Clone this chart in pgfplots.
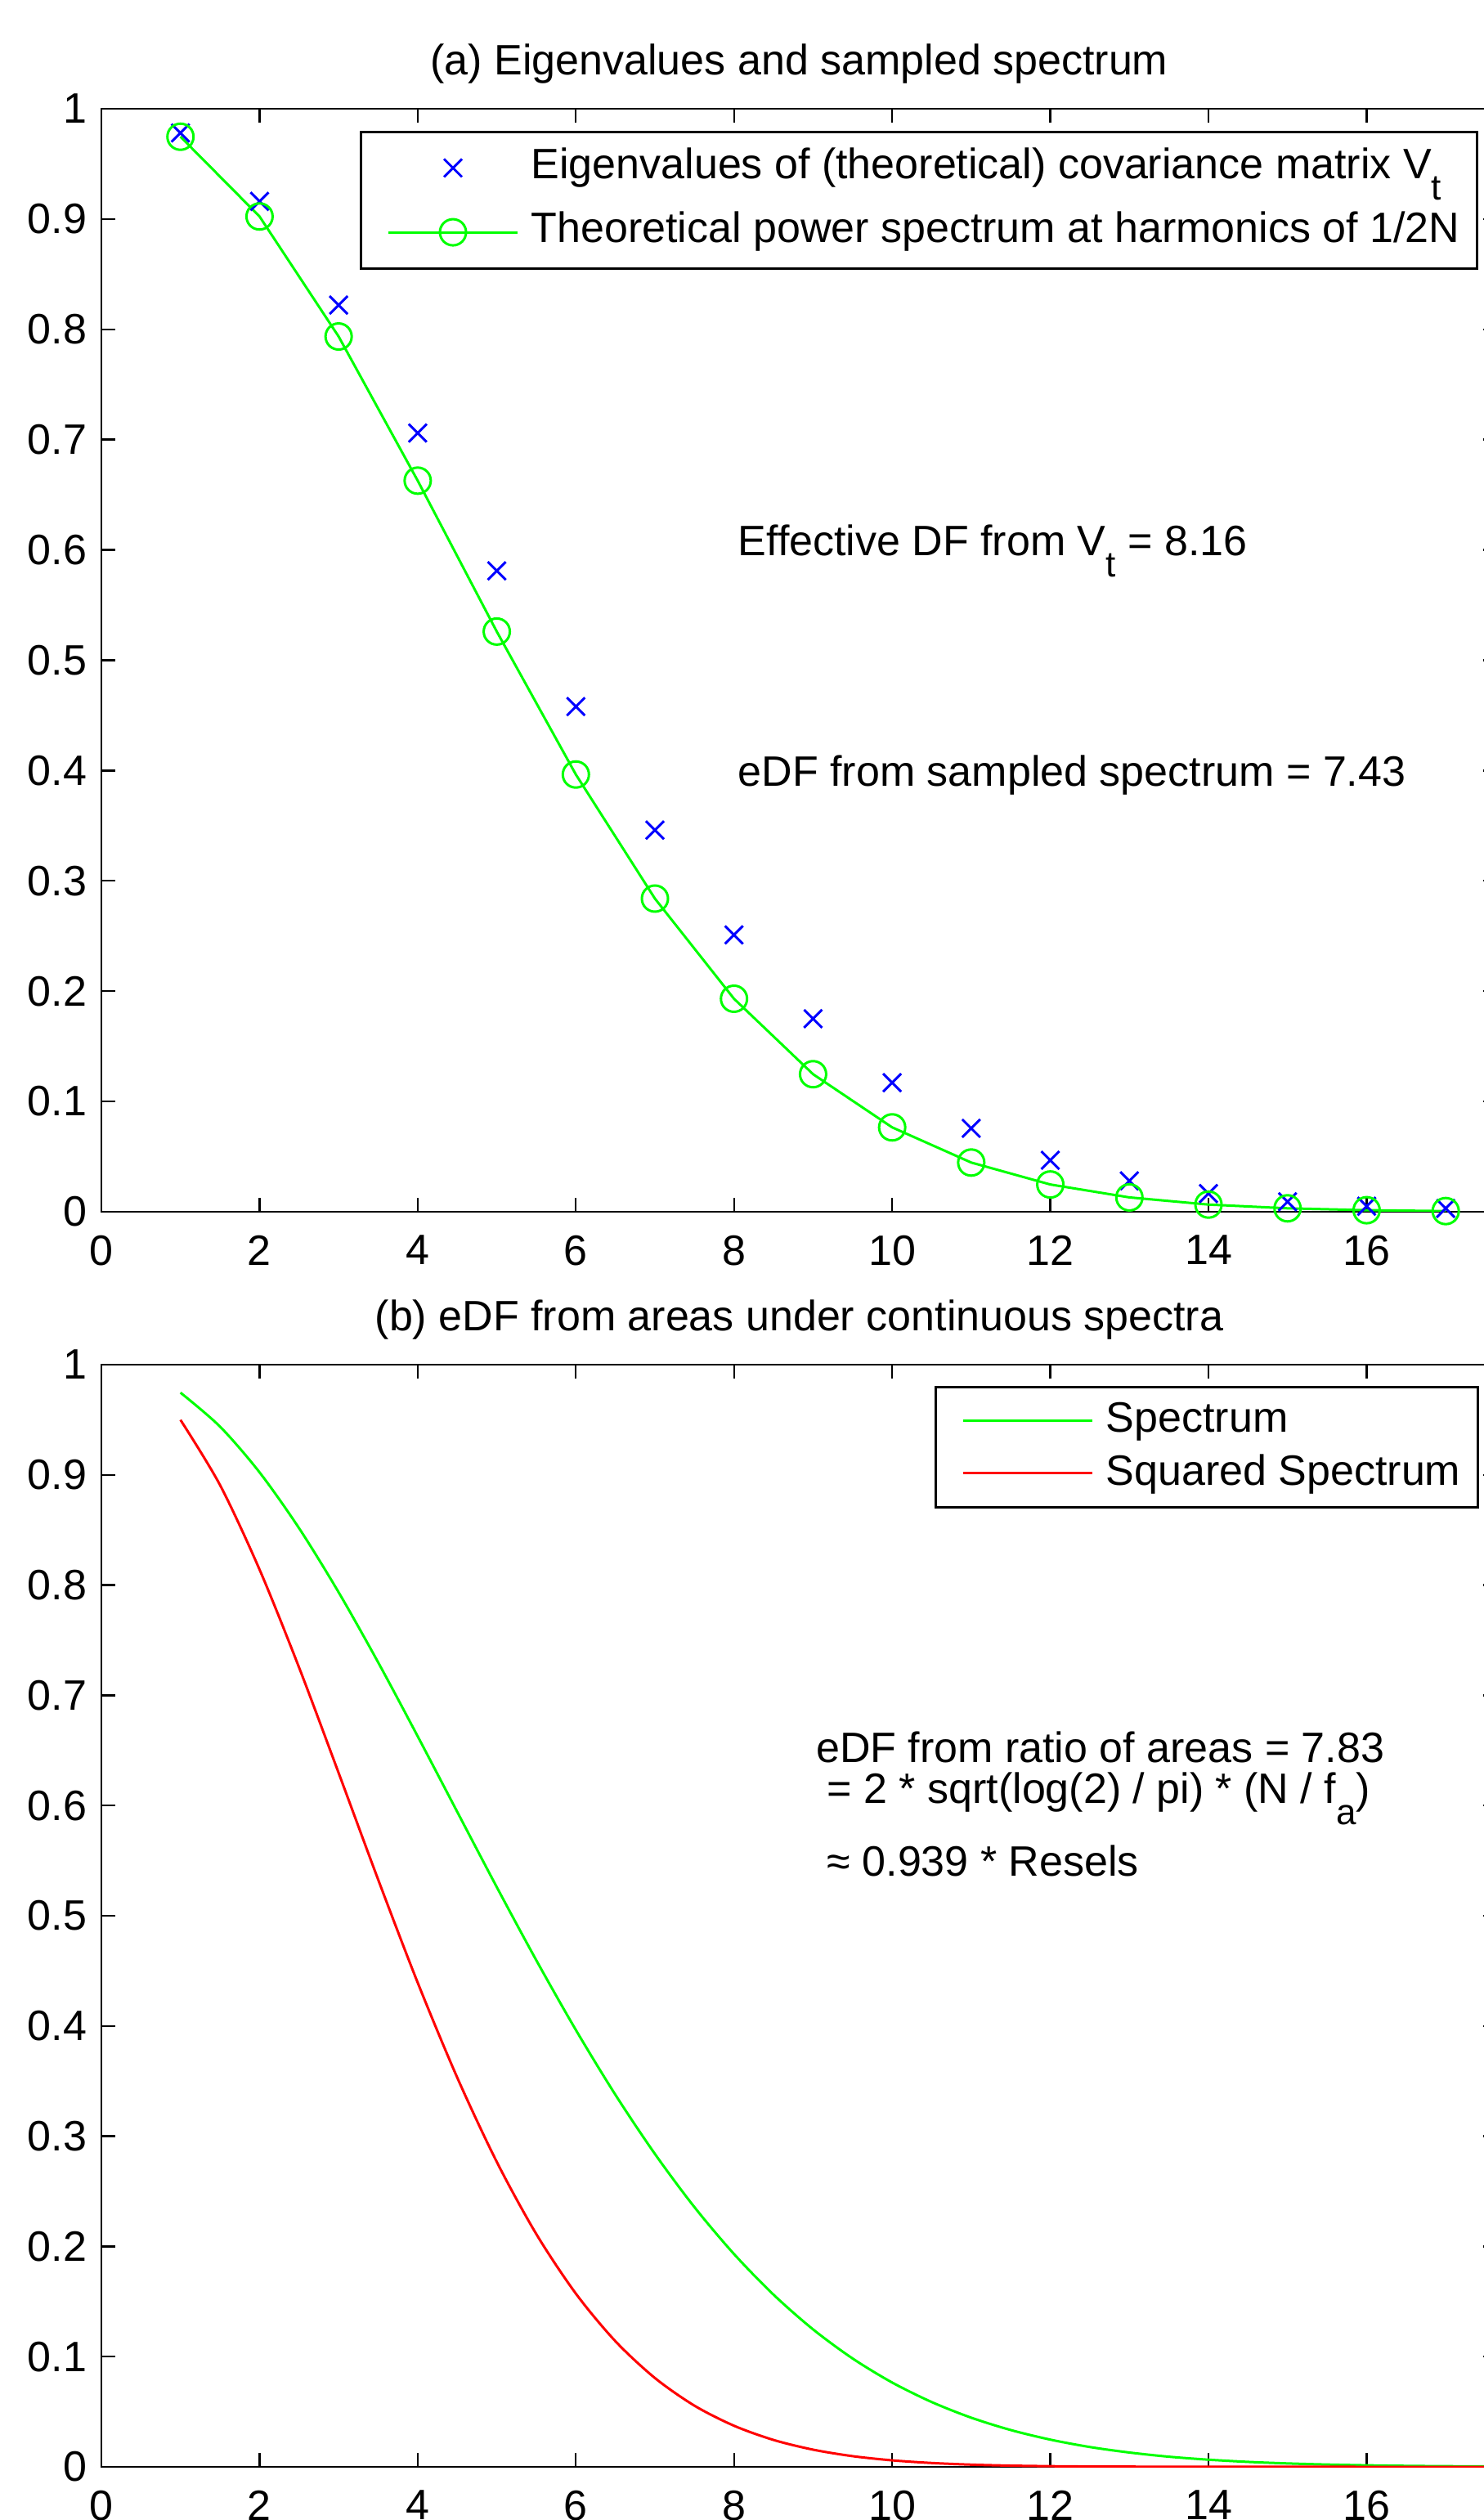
\documentclass[border=0pt]{standalone}
\usepackage{pgfplots}
\pgfplotsset{compat=1.18}
\usepackage{fontspec}
\setmainfont{Liberation Sans}
\newcommand{\fs}{\fontsize{13}{15.6}\selectfont}
\newcommand{\sub}[1]{\raisebox{-0.5em}{\fontsize{11}{11}\selectfont #1}}
\definecolor{mblue}{rgb}{0,0,1}
\definecolor{mgreen}{rgb}{0,1,0}
\definecolor{mred}{rgb}{1,0,0}
\pgfplotsset{
  mstyle/.style={
    scale only axis, width=426.75pt,
    xmin=0, xmax=17.65, ymin=0, ymax=1,
    xtick={0,2,4,6,8,10,12,14,16},
    xticklabels={0,2,4,6,8,10,12,14,16},
    ytick={0,0.1,0.2,0.3,0.4,0.5,0.6,0.7,0.8,0.9,1},
    yticklabels={0,0.1,0.2,0.3,0.4,0.5,0.6,0.7,0.8,0.9,1},
    tick align=inside, major tick length=4.25pt,
    tick style={black, line width=0.6pt},
    axis line style={line width=0.7pt},
    /pgf/number format/assume math mode=true,
    tick label style={font=\fs, inner sep=0pt},
    yticklabel style={anchor=east, xshift=-4.25pt},
    xticklabel style={anchor=north, yshift=-7pt},
    every axis title shift=0pt,
    title style={font=\fs, at={(axis description cs:0.5,1)}, anchor=base, yshift=10.25pt, inner sep=0pt},
    legend style={anchor=north east, draw=black, line width=0.7pt, fill=white,
      inner xsep=5pt, inner ysep=4.5pt,
      cells={anchor=west}, nodes={inner sep=0.3pt, font=\fs}},
    legend image code/.code={\path (0pt,0pt) (46pt,0pt);
      \draw[mark repeat=2,mark phase=2,##1] plot coordinates {(3pt,0pt) (22.75pt,0pt) (42.5pt,0pt)};},
  }
}
\begin{document}
\begin{tikzpicture}
\begin{axis}[mstyle, at={(31pt,400pt)}, anchor=south west, height=337.25pt,
  title={(a) Eigenvalues and sampled spectrum},
  legend style={at={(0.9866,0.98)}, row sep=6.65pt, nodes={text depth=3pt}}]
\addplot[only marks, mark=x, mark size=3.9pt, color=mblue, line width=0.75pt] coordinates {
(1,0.978) (2,0.916) (3,0.822) (4,0.706) (5,0.581) (6,0.458) (7,0.346) (8,0.251)
(9,0.175) (10,0.117) (11,0.0756) (12,0.0467) (13,0.028) (14,0.0165) (15,0.009)
(16,0.005) (17,0.003)};
\addlegendentry{Eigenvalues of (theoretical) covariance matrix V\sub{t}}
\addplot[mark=o, mark size=4pt, color=mgreen, line width=0.75pt] coordinates {
(1,0.9746) (2,0.9023) (3,0.7935) (4,0.6628) (5,0.5260) (6,0.3964) (7,0.2839)
(8,0.1931) (9,0.1247) (10,0.0765) (11,0.0446) (12,0.0247) (13,0.0130)
(14,0.0065) (15,0.0031) (16,0.0014) (17,0.0006)};
\addlegendentry{Theoretical power spectrum at harmonics of 1/2N}
\node[anchor=base west, font=\fs, inner sep=0pt] at (axis cs:8.045,0.595) {Effective DF from V\sub{t} = 8.16};
\node[anchor=base west, font=\fs, inner sep=0pt] at (axis cs:8.045,0.3855) {eDF from sampled spectrum = 7.43};
\end{axis}
\begin{axis}[mstyle, at={(31pt,16.25pt)}, anchor=south west, height=337pt,
  title={(b) eDF from areas under continuous spectra},
  legend style={at={(0.9871,0.9807)}, row sep=4.15pt, nodes={text depth=2pt}}]
\addplot[smooth, color=mgreen, line width=0.75pt] coordinates {
(1,0.9746) (1.5,0.9438) (2,0.9023) (2.5,0.8516) (3,0.7935) (3.5,0.7299) (4,0.6628)
(4.5,0.5943) (5,0.5260) (5.5,0.4596) (6,0.3964) (6.5,0.3376) (7,0.2839) (7.5,0.2356)
(8,0.1931) (8.5,0.1562) (9,0.1247) (9.5,0.0983) (10,0.0765) (10.5,0.0588) (11,0.0446)
(11.5,0.0334) (12,0.0247) (12.5,0.0180) (13,0.0130) (13.5,0.0092) (14,0.0065)
(14.5,0.0045) (15,0.0031) (15.5,0.0021) (16,0.0014) (16.5,0.0009) (17,0.0006)
(17.5,0.0004) (18,0.0002)};
\addlegendentry{Spectrum}
\addplot[smooth, color=mred, line width=0.75pt] coordinates {
(1,0.9499) (1.5,0.8908) (2,0.8141) (2.5,0.7252) (3,0.6296) (3.5,0.5328) (4,0.4393)
(4.5,0.3532) (5,0.2767) (5.5,0.2112) (6,0.1572) (6.5,0.1140) (7,0.0806) (7.5,0.0555)
(8,0.0373) (8.5,0.0244) (9,0.0156) (9.5,0.0097) (10,0.0059) (10.5,0.0035) (11,0.0020)
(11.5,0.0011) (12,0.0006) (12.5,0.0003) (13,0.0002) (14,0.00004) (15,0.00001)
(16,0) (17,0) (18,0)};
\addlegendentry{Squared Spectrum}
\node[anchor=base west, font=\fs, inner sep=0pt] at (axis cs:9.03,0.639) {eDF from ratio of areas = 7.83};
\node[anchor=base west, font=\fs, inner sep=0pt] at (axis cs:9.17,0.602) {= 2 * sqrt(log(2) / pi) * (N / f\sub{a})};
\node[anchor=base west, font=\fs, inner sep=0pt] at (axis cs:9.17,0.536) {≈ 0.939 * Resels};
\end{axis}
\pgfresetboundingbox
\useasboundingbox (0pt,0pt) rectangle (453.5pt,770.5pt);
\end{tikzpicture}
\end{document}
